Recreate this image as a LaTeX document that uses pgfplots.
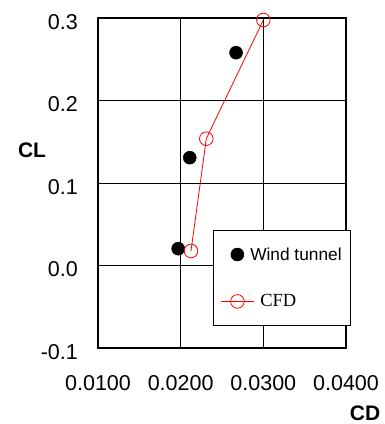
\documentclass[border=0pt]{standalone}
\usepackage{fontspec}
\setmainfont{Liberation Sans}
\newfontfamily\timesfont{Liberation Serif}
\usepackage{pgfplots}
\pgfplotsset{compat=1.18}
\begin{document}
\begin{tikzpicture}
\path[use as bounding box] (0,0) rectangle (384pt,424pt);
\begin{axis}[
  at={(98pt,76pt)}, anchor=south west,
  scale only axis, width=248pt, height=330pt,
  xmin=0.01, xmax=0.04, ymin=-0.1, ymax=0.3,
  xtick={0.01,0.02,0.03,0.04}, ytick={-0.1,0,0.1,0.2,0.3},
  scaled x ticks=false, scaled y ticks=false,
  grid=major, major grid style={black, line width=0.8pt},
  axis line style={black, line width=1.2pt},
  major tick length=0pt,
  /pgf/number format/assume math mode=true,
  x tick label style={/pgf/number format/.cd, fixed, fixed zerofill, precision=4, /tikz/.cd,
    anchor=center, inner sep=0pt, yshift=-35pt, font=\fontsize{21.5}{24}\selectfont},
  y tick label style={/pgf/number format/.cd, fixed, fixed zerofill, precision=1, /tikz/.cd,
    anchor=east, inner sep=0pt, xshift=-20pt, yshift=-4pt, font=\fontsize{21.5}{24}\selectfont},
  xlabel={CD}, ylabel={CL},
  xlabel style={at={(axis description cs:1.077,-0.197)}, anchor=center, font=\bfseries\fontsize{21}{24}\selectfont},
  ylabel style={at={(axis description cs:-0.266,0.6)}, rotate=-90, anchor=center, font=\bfseries\fontsize{21}{24}\selectfont},
  legend image code/.code={\draw[mark repeat=2,mark phase=2,#1] plot coordinates {(0pt,0pt) (16.5pt,0pt) (33pt,0pt)};},
  legend style={at={(0.4637,0.3576)}, anchor=north west, draw=black, line width=1pt, fill=white,
    inner xsep=7pt, inner ysep=17pt, row sep=33pt, column sep=6pt,
    nodes={inner sep=0pt}, cells={anchor=west},
    font=\fontsize{17.3}{20}\selectfont},
]
\addplot[only marks, mark=*, mark size=6.5pt, mark options={fill=black, draw=black, line width=0.5pt}]
  coordinates {(0.0267,0.258) (0.0211,0.1307) (0.0197,0.0204)};
\addlegendentry{\hspace*{-10pt}Wind tunnel\hspace*{2pt}}
\addplot[red, line width=0.8pt, mark=o, mark size=6.8pt, mark options={fill=white, draw=red, line width=0.8pt}]
  coordinates {(0.02125,0.0176) (0.0231,0.1537) (0.0300,0.2976)};
\addlegendentry{{\timesfont\fontsize{18.5}{20}\selectfont CFD}}
\end{axis}
\end{tikzpicture}
\end{document}
